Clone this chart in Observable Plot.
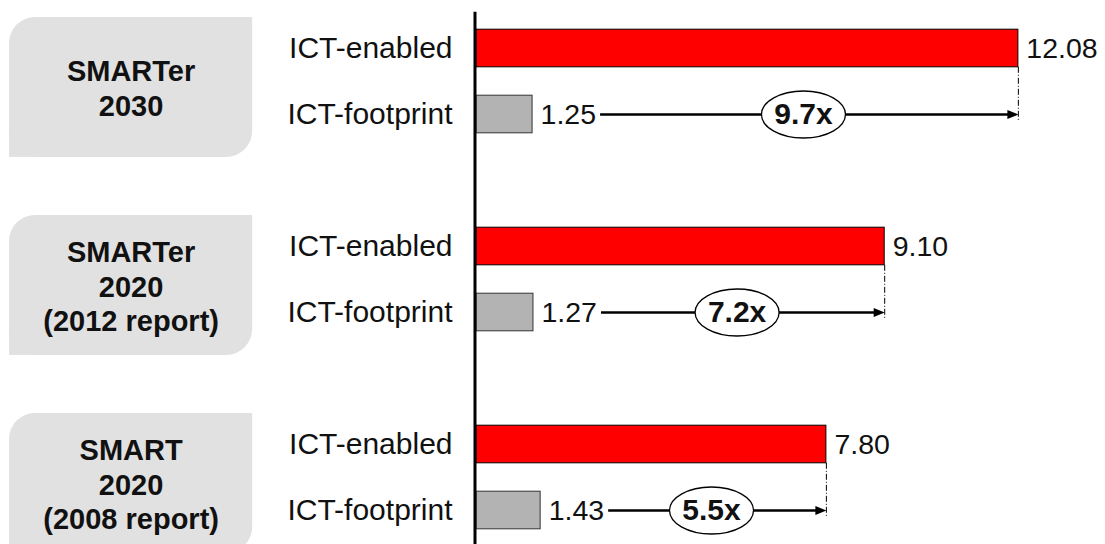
<!DOCTYPE html>
<html><head><meta charset="utf-8">
<script src="https://cdn.jsdelivr.net/npm/d3@7"></script>
<script src="https://cdn.jsdelivr.net/npm/@observablehq/plot@0.6"></script>
<style>body{margin:0;background:#fff;} svg{display:block;}</style>
</head><body><div id="chart"></div>
<script>
// ---- data ----
const groups = ["SMARTer\n2030", "SMARTer\n2020\n(2012 report)", "SMART\n2020\n(2008 report)"];
const series = ["ICT-enabled", "ICT-footprint"];
const enabled = [12.08, 9.10, 7.80];
const footprint = [1.25, 1.27, 1.43];
const ratios = ["9.7x", "7.2x", "5.5x"];

// ---- derived tables ----
const rows = [];
groups.forEach((g, gi) => {
  [enabled[gi], footprint[gi]].forEach((v, si) => {
    rows.push({group: g, gi, series: series[si], si, value: v, row: gi * 3 + si});
  });
});
const pairs = groups.map((g, gi) => ({group: g, gi, en: enabled[gi], fp: footprint[gi], ratio: ratios[gi], top: gi * 3 - 0.47, bottom: gi * 3 + 1.65}));

const boxL = -10.41, boxR = -4.99;
const cornerX = 0.58, cornerY = 0.4;

const ellipseSymbol = {draw(ctx) {
  const a = 42, b = 23.5, k = 0.5523;
  ctx.moveTo(a, 0);
  ctx.bezierCurveTo(a, b * k, a * k, b, 0, b);
  ctx.bezierCurveTo(-a * k, b, -a, b * k, -a, 0);
  ctx.bezierCurveTo(-a, -b * k, -a * k, -b, 0, -b);
  ctx.bezierCurveTo(a * k, -b, a, -b * k, a, 0);
  ctx.closePath();
}};
const headSymbol = {draw(ctx) {
  ctx.moveTo(0, 0); ctx.lineTo(-11, -4.5); ctx.lineTo(-11, 4.5); ctx.closePath();
}};

const font = "Liberation Sans, Arial, sans-serif";

const plot = Plot.plot({
  width: 1105,
  height: 544,
  marginLeft: 476,
  marginRight: 1,
  marginTop: 15,
  marginBottom: 1,
  x: {domain: [0, 14], axis: null},
  y: {domain: [-0.5, 7.5], range: [15, 543], axis: null},
  style: {fontFamily: font, background: "#fff", overflow: "visible"},
  marks: [
    // group boxes (rounded top-left & bottom-right)
    Plot.rect(pairs, {x1: boxL, x2: boxR, y1: "top", y2: "bottom", fill: "#e1e1e1", rx: 26}),
    Plot.rect(pairs, {x1: boxR - cornerX, x2: boxR, y1: "top", y2: d => d.top + cornerY, fill: "#e1e1e1"}),
    Plot.rect(pairs, {x1: boxL, x2: boxL + cornerX, y1: d => d.bottom - cornerY, y2: "bottom", fill: "#e1e1e1"}),
    Plot.text(pairs, {x: (boxL + boxR) / 2, y: d => (d.top + d.bottom) / 2, text: "group", fontSize: 29, fontWeight: "bold", lineHeight: 1.2, fill: "#111"}),
    // bars
    Plot.rect(rows, {x1: 0, x2: "value", y1: d => d.row - 0.285, y2: d => d.row + 0.285,
      fill: d => d.si === 0 ? "#ff0000" : "#b3b3b3", stroke: d => d.si === 0 ? "#000" : "#333", strokeWidth: 1}),
    // axis line
    Plot.ruleX([0], {y1: -0.55, y2: 7.6, stroke: "#000", strokeWidth: 3, dx: -1.5}),
    // row labels
    Plot.text(rows, {x: 0, y: "row", text: "series", textAnchor: "end", dx: -24, fontSize: 30, fill: "#111"}),
    // value labels
    Plot.text(rows, {x: "value", y: "row", text: d => d.value.toFixed(2), textAnchor: "start", dx: 8, fontSize: 28.5, fill: "#111"}),
    // dashed drop line
    Plot.ruleX(pairs, {x: "en", y1: d => d.gi * 3 + 0.285, y2: d => d.gi * 3 + 1.1, stroke: "#000", strokeWidth: 1, strokeDasharray: "6,2,1,2"}),
    // arrow line
    Plot.ruleY(pairs, {x1: "fp", x2: "en", y: d => d.gi * 3 + 1, insetLeft: 68, insetRight: 6, stroke: "#000", strokeWidth: 2.5}),
    Plot.dot(pairs, {x: "en", y: d => d.gi * 3 + 1, symbol: headSymbol, r: 5, fill: "#000", stroke: "none"}),
    // ratio ellipses
    Plot.dot(pairs, {x: d => (d.fp + d.en) / 2, y: d => d.gi * 3 + 1, dx: 28, symbol: ellipseSymbol, r: 10, fill: "#fff", stroke: "#000", strokeWidth: 1.3}),
    Plot.text(pairs, {x: d => (d.fp + d.en) / 2, y: d => d.gi * 3 + 1, dx: 28, text: "ratio", fontSize: 30, fontWeight: "bold", fill: "#111"})
  ]
});
document.getElementById("chart").appendChild(plot);
</script>
</body></html>
